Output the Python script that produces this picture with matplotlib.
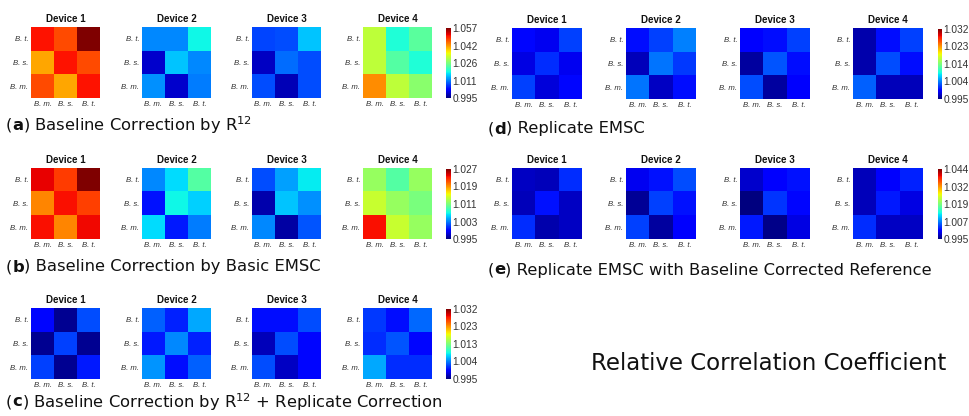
import numpy as np
import matplotlib
matplotlib.use("Agg")
import matplotlib.pyplot as plt
from matplotlib import cm, colors

plt.rcParams["mathtext.default"] = "regular"

# Row order of every matrix: B. t., B. s., B. m. (top to bottom);
# column order: B. m., B. s., B. t.
row_labels = ["B. t.", "B. s.", "B. m."]
col_labels = ["B. m.", "B. s.", "B. t."]
devices = ["Device 1", "Device 2", "Device 3", "Device 4"]

baseline_r12 = [
    [[1.0502, 1.0465, 1.0570], [1.0403, 1.0502, 1.0465], [1.0465, 1.0403, 1.0502]],
    [[1.0111, 1.0111, 1.0179], [0.9993, 1.0148, 1.0111], [1.0117, 0.9993, 1.0105]],
    [[1.0071, 1.0074, 1.0148], [0.9987, 1.0093, 1.0074], [1.0074, 0.9981, 1.0074]],
    [[1.0310, 1.0192, 1.0235], [1.0310, 1.0229, 1.0192], [1.0421, 1.0310, 1.0272]],
]
baseline_emsc = [
    [[1.0241, 1.0220, 1.0270], [1.0196, 1.0235, 1.0219], [1.0235, 1.0196, 1.0238]],
    [[1.0033, 1.0059, 1.0094], [0.9995, 1.0068, 1.0056], [1.0059, 0.9998, 1.0030]],
    [[1.0014, 1.0040, 1.0065], [0.9963, 1.0052, 1.0036], [1.0033, 0.9960, 1.0017]],
    [[1.0120, 1.0094, 1.0120], [1.0139, 1.0120, 1.0110], [1.0235, 1.0139, 1.0120]],
]
r12_replicate = [
    [[0.9998, 0.9957, 1.0024], [0.9957, 1.0020, 0.9957], [1.0020, 0.9957, 1.0006]],
    [[1.0031, 1.0009, 1.0057], [1.0006, 1.0046, 1.0009], [1.0050, 1.0002, 1.0031]],
    [[1.0002, 1.0002, 1.0024], [0.9969, 1.0024, 0.9998], [1.0024, 0.9972, 0.9998]],
    [[1.0017, 1.0002, 1.0035], [1.0013, 1.0028, 0.9998], [1.0057, 1.0013, 1.0013]],
]
replicate_emsc = [
    [[0.9998, 0.9987, 1.0020], [0.9983, 1.0013, 0.9987], [1.0020, 0.9980, 0.9998]],
    [[1.0002, 1.0020, 1.0043], [0.9969, 1.0039, 1.0017], [1.0039, 0.9972, 1.0002]],
    [[0.9994, 1.0002, 1.0020], [0.9961, 1.0028, 1.0002], [1.0024, 0.9961, 0.9991]],
    [[0.9965, 1.0002, 1.0020], [0.9965, 1.0024, 1.0002], [1.0031, 0.9969, 0.9969]],
]
replicate_emsc_bc = [
    [[0.9979, 0.9975, 1.0033], [0.9975, 1.0019, 0.9979], [1.0033, 0.9970, 0.9979]],
    [[0.9999, 1.0019, 1.0048], [0.9960, 1.0043, 1.0019], [1.0043, 0.9965, 1.0004]],
    [[0.9984, 1.0009, 1.0019], [0.9950, 1.0038, 1.0014], [1.0024, 0.9955, 0.9994]],
    [[0.9975, 1.0004, 1.0028], [0.9975, 1.0024, 0.9994], [1.0033, 0.9979, 0.9979]],
]

ranges = {
    "a": (0.995, 1.057), "b": (0.995, 1.027), "c": (0.995, 1.032),
    "d": (0.995, 1.032), "e": (0.995, 1.044),
}
cbar_labels = {
    "a": ["0.995", "1.011", "1.026", "1.042", "1.057"],
    "b": ["0.995", "1.003", "1.011", "1.019", "1.027"],
    "c": ["0.995", "1.004", "1.013", "1.023", "1.032"],
    "d": ["0.995", "1.004", "1.014", "1.023", "1.032"],
    "e": ["0.995", "1.007", "1.019", "1.032", "1.044"],
}
captions = {
    "a": "Baseline Correction by R$^{12}$",
    "b": "Baseline Correction by Basic EMSC",
    "c": "Baseline Correction by R$^{12}$ + Replicate Correction",
    "d": "Replicate EMSC",
    "e": "Replicate EMSC with Baseline Corrected Reference",
}
panel_data = {"a": baseline_r12, "b": baseline_emsc, "c": r12_replicate,
              "d": replicate_emsc, "e": replicate_emsc_bc}

W, H = 969, 416
fig = plt.figure(figsize=(W / 100, H / 100), dpi=100)


def px_axes(x, y, w, h):
    return fig.add_axes([x / W, 1 - (y + h) / H, w / W, h / H])


# layout in pixels: heatmap lefts, width, colorbar left/width, panel top, caption
layout = {
    "a": dict(lefts=[31, 142, 252, 363], w=69, cb=446, cbw=5, top=27, cap=(6, 125)),
    "b": dict(lefts=[31, 142, 252, 363], w=69, cb=446, cbw=5, top=168, cap=(6, 267)),
    "c": dict(lefts=[31, 142, 252, 363], w=69, cb=446, cbw=5, top=308, cap=(6, 402)),
    "d": dict(lefts=[512, 626, 740, 853], w=70, cb=938, cbw=4, top=28, cap=(488, 129)),
    "e": dict(lefts=[512, 626, 740, 853], w=70, cb=938, cbw=4, top=168, cap=(488, 270)),
}
HM_H = 71
CAP_SIZE = 11.8
tick_font = dict(family="Liberation Sans", style="italic", size=5.6)
cmap = plt.get_cmap("jet")

fig.canvas.draw()
renderer = fig.canvas.get_renderer()

for key, mats in panel_data.items():
    L = layout[key]
    vmin, vmax = ranges[key]
    norm = colors.Normalize(vmin=vmin, vmax=vmax)
    for i, mat in enumerate(mats):
        ax = px_axes(L["lefts"][i], L["top"], L["w"], HM_H)
        ax.imshow(np.array(mat), cmap=cmap, norm=norm, aspect="auto",
                  interpolation="nearest")
        ax.set_xticks(range(3))
        ax.set_yticks(range(3))
        ax.set_xticklabels(col_labels, fontdict=tick_font, color="#333333")
        ax.set_yticklabels(row_labels, fontdict=tick_font, color="#333333")
        ax.tick_params(length=0, pad=2)
        for s in ax.spines.values():
            s.set_visible(False)
        ax.set_title(devices[i], fontsize=7, fontweight="bold",
                     family="Liberation Sans", pad=3.5, color="#111111")
    cax = px_axes(L["cb"], L["top"] + 1, L["cbw"], HM_H - 1)
    cb = fig.colorbar(cm.ScalarMappable(norm=norm, cmap=cmap), cax=cax)
    cb.outline.set_visible(False)
    cb.set_ticks(np.linspace(vmin, vmax, 5))
    cb.set_ticklabels(cbar_labels[key])
    cax.tick_params(length=0, pad=1, colors="#333333", labelsize=7.3)
    for t in cax.get_yticklabels():
        t.set_family("Liberation Sans")

    # caption: "(" + bold panel letter + ") " + description
    cx, cy = L["cap"]
    ypos = 1 - cy / H
    t1 = fig.text(cx / W, ypos, "(", fontsize=CAP_SIZE, va="center",
                  ha="left", family="DejaVu Sans", color="#111111")
    x = t1.get_window_extent(renderer).x1
    t2 = fig.text(x / W, ypos, key, fontsize=CAP_SIZE, va="center", ha="left",
                  family="DejaVu Sans", fontweight="bold", color="#111111")
    x = t2.get_window_extent(renderer).x1
    fig.text(x / W, ypos, ") " + captions[key], fontsize=CAP_SIZE,
             va="center", ha="left", family="DejaVu Sans", color="#111111")

fig.text(591 / W, 1 - 363 / H, "Relative Correlation Coefficient", fontsize=16.5,
         va="center", ha="left", family="DejaVu Sans", color="#111111")

fig.savefig("out.png", dpi=100)
